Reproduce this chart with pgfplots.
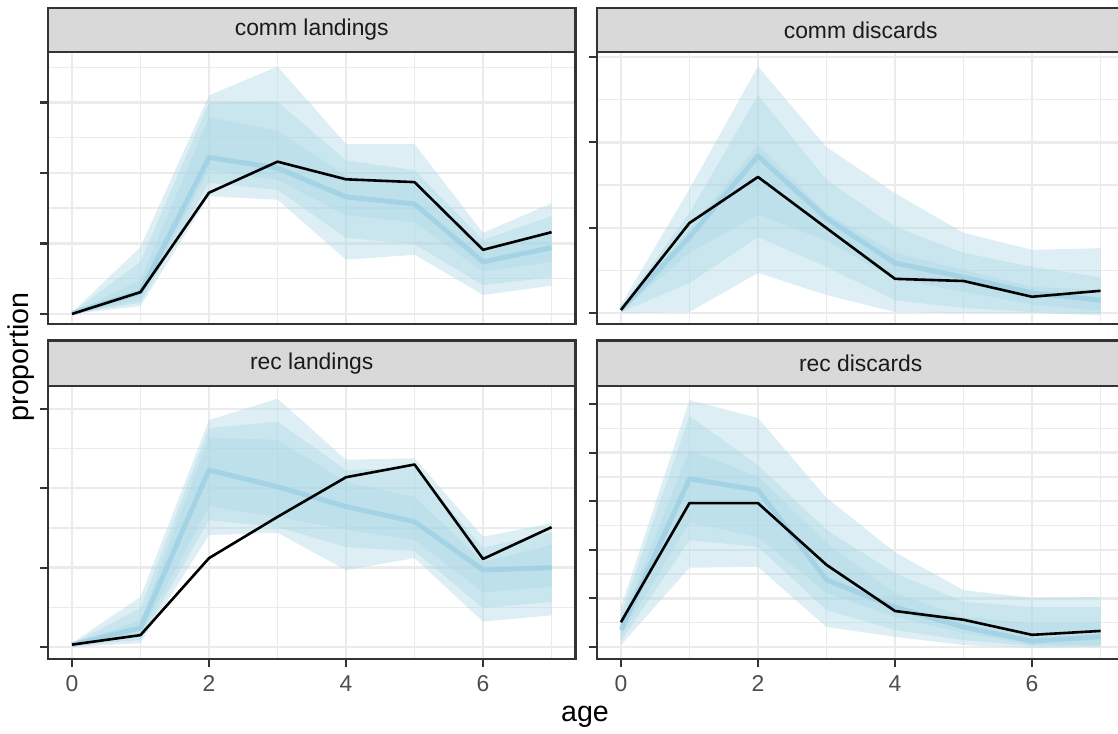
\documentclass[border=0pt]{standalone}
\usepackage{fontspec}
\setmainfont{Liberation Sans}
\usepackage{pgfplots}
\pgfplotsset{compat=1.18}
\usepackage{pgfplotstable}
\usepgfplotslibrary{fillbetween}
\definecolor{gridc}{HTML}{EBEBEB}
\definecolor{framec}{HTML}{333333}
\definecolor{stripc}{HTML}{D9D9D9}
\definecolor{striptxt}{HTML}{1A1A1A}
\definecolor{tickc}{HTML}{4D4D4D}
\definecolor{lb}{HTML}{ADD8E6}
\definecolor{medc}{HTML}{8FCADF}

\pgfplotstableread{
x ohi olo mhi mlo ihi ilo med obs
0 0.002 0.000 0.002 0.000 0.001 0.000 0.001 0.000
1 0.095 0.011 0.074 0.016 0.048 0.020 0.031 0.031
2 0.310 0.167 0.300 0.186 0.279 0.204 0.222 0.172
3 0.351 0.162 0.301 0.176 0.260 0.190 0.207 0.216
4 0.241 0.077 0.218 0.108 0.196 0.140 0.166 0.191
5 0.241 0.084 0.204 0.099 0.183 0.130 0.156 0.187
6 0.115 0.027 0.105 0.041 0.088 0.060 0.074 0.091
7 0.157 0.040 0.139 0.052 0.116 0.074 0.094 0.116
}\tA

\pgfplotstableread{
x ohi olo mhi mlo ihi ilo med obs
0 0.019 0.000 0.014 0.002 0.009 0.005 0.007 0.007
1 0.291 0.002 0.234 0.070 0.195 0.141 0.178 0.211
2 0.578 0.094 0.511 0.178 0.394 0.230 0.368 0.319
3 0.389 0.042 0.312 0.108 0.234 0.170 0.222 0.199
4 0.281 0.002 0.202 0.030 0.141 0.080 0.117 0.080
5 0.188 0.000 0.141 0.012 0.101 0.050 0.084 0.075
6 0.148 0.000 0.108 0.002 0.061 0.020 0.047 0.038
7 0.152 -0.005 0.084 0.000 0.054 0.005 0.030 0.052
}\tB

\pgfplotstableread{
x ohi olo mhi mlo ihi ilo med obs
0 0.005 0.000 0.004 0.001 0.003 0.001 0.003 0.003
1 0.063 0.005 0.049 0.009 0.034 0.015 0.024 0.015
2 0.286 0.141 0.276 0.160 0.264 0.177 0.223 0.112
3 0.313 0.144 0.284 0.151 0.261 0.164 0.202 0.164
4 0.236 0.097 0.223 0.126 0.208 0.148 0.177 0.214
5 0.238 0.112 0.226 0.121 0.189 0.135 0.158 0.230
6 0.139 0.032 0.125 0.049 0.107 0.069 0.097 0.111
7 0.156 0.040 0.145 0.057 0.129 0.076 0.100 0.151
}\tC

\pgfplotstableread{
x ohi olo mhi mlo ihi ilo med obs
0 0.082 0.004 0.066 0.012 0.051 0.023 0.035 0.051
1 0.508 0.163 0.475 0.220 0.405 0.257 0.346 0.296
2 0.471 0.165 0.374 0.206 0.350 0.226 0.323 0.296
3 0.307 0.041 0.241 0.076 0.214 0.111 0.138 0.169
4 0.195 0.021 0.152 0.035 0.111 0.062 0.082 0.074
5 0.117 0.004 0.093 0.014 0.062 0.029 0.041 0.056
6 0.101 -0.002 0.082 0.002 0.049 0.004 0.012 0.025
7 0.103 0.000 0.082 0.002 0.049 0.004 0.021 0.033
}\tD

\newcommand\bands[2]{%
  \addplot[name path=#2oh, draw=none, forget plot] table[x=x,y=ohi]{#1};
  \addplot[name path=#2ol, draw=none, forget plot] table[x=x,y=olo]{#1};
  \addplot[name path=#2mh, draw=none, forget plot] table[x=x,y=mhi]{#1};
  \addplot[name path=#2ml, draw=none, forget plot] table[x=x,y=mlo]{#1};
  \addplot[name path=#2ih, draw=none, forget plot] table[x=x,y=ihi]{#1};
  \addplot[name path=#2il, draw=none, forget plot] table[x=x,y=ilo]{#1};
  \addplot[fill=lb, fill opacity=0.42, draw=none] fill between[of=#2oh and #2ol];
  \addplot[fill=lb, fill opacity=0.42, draw=none] fill between[of=#2mh and #2ml];
  \addplot[fill=lb, fill opacity=0.42, draw=none] fill between[of=#2ih and #2il];
  \addplot[medc, line width=1.9pt, opacity=0.55, line join=round] table[x=x,y=med]{#1};
  \addplot[black, line width=1.0pt, line join=round] table[x=x,y=obs]{#1};
}

\pgfplotsset{facet/.style={
  scale only axis, width=202.9pt,
  xmin=-0.35, xmax=7.35,
  xtick={0,2,4,6}, minor xtick={1,3,5,7},
  grid=both,
  major grid style={line width=0.9pt, draw=gridc},
  minor grid style={line width=0.55pt, draw=gridc},
  axis line style={line width=0.9pt, draw=framec},
  tick style={line width=0.8pt, draw=framec},
  major tick length=3pt, minor tick length=0pt,
  tick align=outside, tick pos=left,
  yticklabels={},
  /pgf/number format/assume math mode=true,
  ticklabel style={font=\fontsize{8.8}{10}\selectfont, text=tickc},
  clip=false,
}}
\tikzset{strip/.style={fill=stripc, draw=framec, line width=0.9pt},
  striptext/.style={font=\fontsize{8.8}{10}\selectfont, text=striptxt}}

\begin{document}
\begin{tikzpicture}

\begin{axis}[facet, name=p1, at={(18.46pt,157.7pt)}, anchor=south west,
  height=104.6pt, ymin=-0.0142, ymax=0.3716,
  ytick={0,0.1,0.2,0.3}, minor ytick={0.05,0.15,0.25,0.35},
  xticklabels={}, xtick style={draw=none}]
\bands{\tA}{a}
\end{axis}
\draw[strip] (p1.north west) rectangle ([yshift=17pt]p1.north east);
\node[striptext] at ([yshift=8.5pt]p1.north) {comm landings};

\begin{axis}[facet, name=p2, at={(229.6pt,157.7pt)}, anchor=south west,
  height=104.6pt, ymin=-0.0258, ymax=0.612,
  ytick={0,0.2,0.4,0.6}, minor ytick={0.1,0.3,0.5},
  xticklabels={}, xtick style={draw=none}]
\bands{\tB}{b}
\end{axis}
\draw[strip] (p2.north west) rectangle ([yshift=17pt]p2.north east);
\node[striptext] at ([yshift=8.5pt]p2.north) {comm discards};

\begin{axis}[facet, name=p3, at={(18.46pt,28.85pt)}, anchor=south west,
  height=105.0pt, ymin=-0.0151, ymax=0.329,
  ytick={0,0.1,0.2,0.3}, minor ytick={0.05,0.15,0.25}]
\bands{\tC}{c}
\end{axis}
\draw[strip] (p3.north west) rectangle ([yshift=17.5pt]p3.north east);
\node[striptext] at ([yshift=8.75pt]p3.north) {rec landings};

\begin{axis}[facet, name=p4, at={(229.6pt,28.85pt)}, anchor=south west,
  height=105.0pt, ymin=-0.0247, ymax=0.537,
  ytick={0,0.1,0.2,0.3,0.4,0.5}, minor ytick={0.05,0.15,0.25,0.35,0.45}]
\bands{\tD}{d}
\end{axis}
\draw[strip] (p4.north west) rectangle ([yshift=17.5pt]p4.north east);
\node[striptext] at ([yshift=8.75pt]p4.north) {rec discards};

\node[font=\fontsize{11}{13}\selectfont, anchor=base] at (225pt,4.7pt) {age};
\node[font=\fontsize{11}{13}\selectfont, rotate=90] at (8.1pt,145pt) {proportion};

\pgfresetboundingbox
\path[use as bounding box] (0,0) rectangle (430pt,282.3pt);
\end{tikzpicture}
\end{document}
